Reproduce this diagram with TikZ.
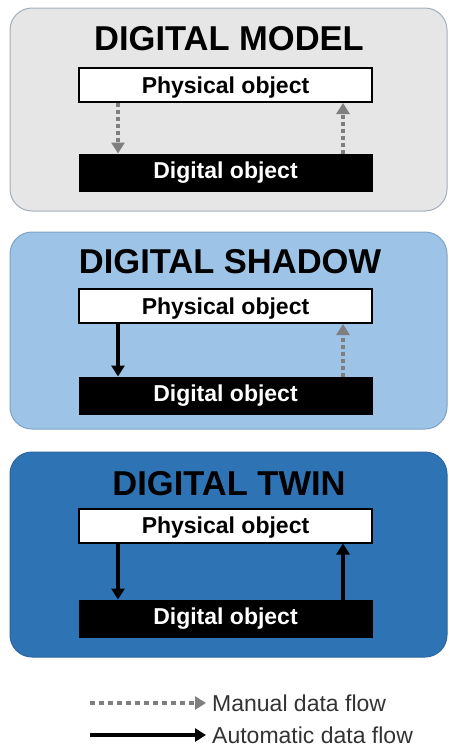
\documentclass[tikz,border=0pt]{standalone}
\usepackage{fontspec}
\setmainfont{Liberation Sans}
\usetikzlibrary{arrows.meta}
\definecolor{pgray}{HTML}{E6E6E6}
\definecolor{pgrayb}{HTML}{A3AEBB}
\definecolor{plight}{HTML}{9DC3E6}
\definecolor{plightb}{HTML}{7FA3C6}
\definecolor{pdark}{HTML}{2E74B5}
\definecolor{pdarkb}{HTML}{2A65A0}
\definecolor{flowgray}{HTML}{7F7F7F}
\tikzset{
  panel/.style={rounded corners=22pt, line width=1pt},
  title/.style={anchor=base, inner sep=0pt, font=\fontsize{34.5}{34.5}\selectfont\bfseries},
  physbox/.style={draw=black, line width=2pt, fill=white, minimum width=293pt, minimum height=34pt, inner sep=0pt, text height=16.5pt, text depth=0pt, font=\fontsize{23}{23}\selectfont\bfseries},
  digbox/.style={draw=black, line width=1pt, fill=black, text=white, minimum width=293pt, minimum height=37pt, inner sep=0pt, font=\fontsize{23}{23}\selectfont\bfseries},
  manual/.style={draw=flowgray, line width=4pt, dash pattern=on 4pt off 3pt, -{Triangle[length=11pt,width=13pt]}},
  auto/.style={draw=black, line width=3.5pt, -{Triangle[length=11pt,width=13pt]}},
  legendtext/.style={anchor=west, inner sep=0pt, font=\fontsize{23}{23}\selectfont, text=black!80},
}
\begin{document}
\begin{tikzpicture}[x=1pt,y=-1pt]
\useasboundingbox (0,0) rectangle (448,747);
% panels
\draw[panel, fill=pgray, draw=pgrayb] (10,8) rectangle (447,211);
\draw[panel, fill=plight, draw=plightb] (10,232) rectangle (447,429);
\draw[panel, fill=pdark, draw=pdarkb] (10,452) rectangle (447,657);
% titles
\node[title] (t1) at (229,50) {DIGITAL MODEL};
\node[title] (t2) at (230,273) {DIGITAL SHADOW};
\node[title] (t3) at (229,495) {DIGITAL TWIN};
% boxes
\node[physbox] (p1) at (225.5,85) {Physical object};
\node[digbox] (d1) at (225.5,172.5) {Digital object};
\node[physbox] (p2) at (225.5,306) {Physical object};
\node[digbox] (d2) at (225.5,395.5) {Digital object};
\node[physbox] (p3) at (225.5,525.5) {Physical object};
\node[digbox] (d3) at (225.5,618.5) {Digital object};
% arrow columns
\coordinate (L) at (118,0);
\coordinate (R) at (343,0);
% panel 1
\draw[manual] (p1.south -| L) -- (d1.north -| L);
\draw[manual] (d1.north -| R) -- (p1.south -| R);
% panel 2
\draw[auto] (p2.south -| L) -- (d2.north -| L);
\draw[manual] (d2.north -| R) -- (p2.south -| R);
% panel 3
\draw[auto] (p3.south -| L) -- (d3.north -| L);
\draw[auto] (d3.north -| R) -- (p3.south -| R);
% legend
\node[legendtext] (lm) at (212,703) {Manual data flow};
\node[legendtext] (la) at (212,735) {Automatic data flow};
\coordinate (lm0) at (90,703);
\coordinate (la0) at (90,735);
\draw[manual, dash pattern=on 5pt off 4pt] (lm0) -- ([xshift=-6pt]lm.west);
\draw[auto] (la0) -- ([xshift=-6pt]la.west);
\end{tikzpicture}
\end{document}
